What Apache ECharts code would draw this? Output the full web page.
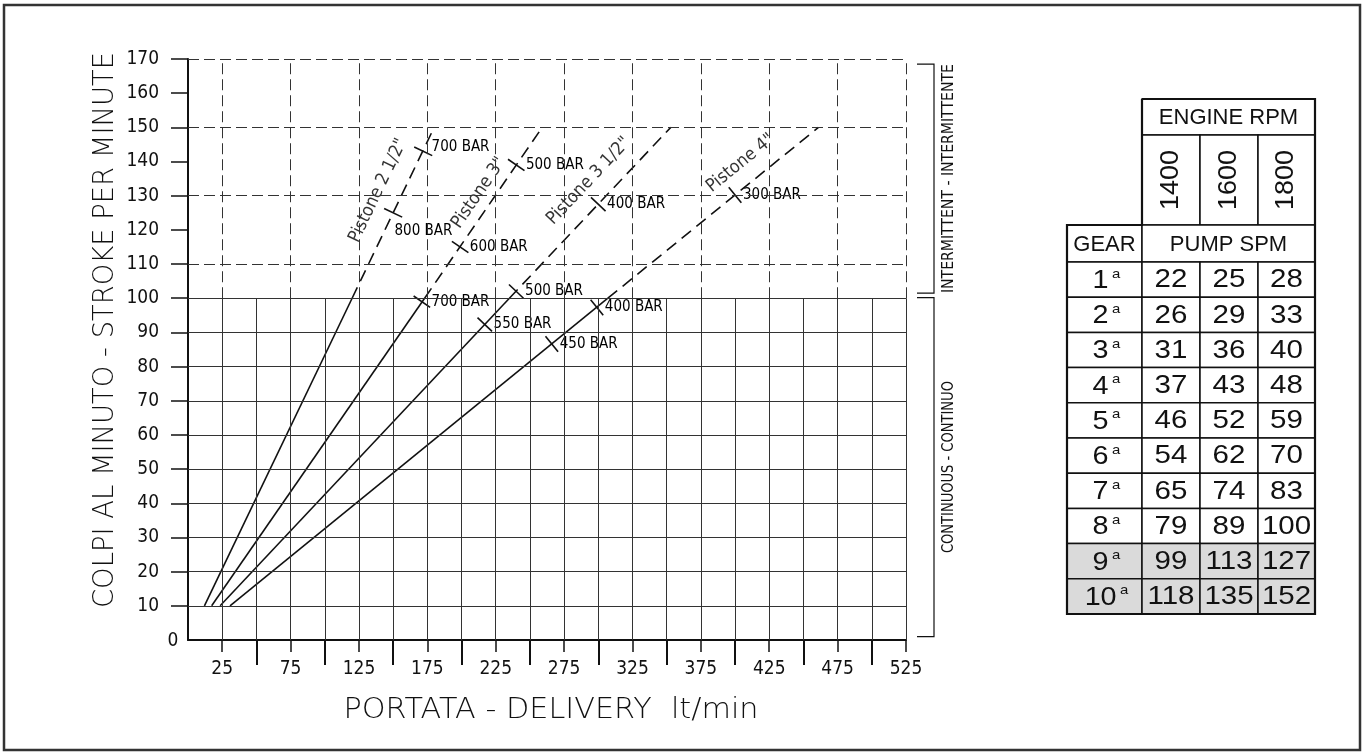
<!DOCTYPE html>
<html>
<head>
<meta charset="utf-8">
<script src="https://cdn.jsdelivr.net/npm/echarts@6/dist/echarts.min.js"></script>
<style>
html,body{margin:0;padding:0;background:#fff;}
#main{width:1368px;height:756px;}
</style>
</head>
<body>
<div id="main"></div>
<script>
// ---------------- DATA ----------------
const xLabelValues = [25, 75, 125, 175, 225, 275, 325, 375, 425, 475, 525];
const xMajorTicks = [50, 100, 150, 200, 250, 300, 350, 400, 450, 500];
const yLabelValues = [10, 20, 30, 40, 50, 60, 70, 80, 90, 100, 110, 120, 130, 140, 150, 160, 170];
const solidGridX = [25, 50, 75, 100, 125, 150, 175, 200, 225, 250, 275, 300, 325, 350, 375, 400, 425, 450, 475, 500, 525];
const dashedGridX = [25, 75, 125, 175, 225, 275, 325, 375, 425, 475, 525];
const solidGridY = [10, 20, 30, 40, 50, 60, 70, 80, 90, 100];
const dashedGridY = [110, 130, 150, 170];
const continuousLimit = 100;
const yMax = 170;
const xMax = 525;

const pistonNames = ['Pistone 2 1/2"', 'Pistone 3"', 'Pistone 3 1/2"', 'Pistone 4"'];
const continuousLines = [
  [[12, 10], [120, 100]],
  [[17.3, 10], [173, 100]],
  [[23.5, 10], [235, 100]],
  [[30.7, 10], [307, 100]]
];
const intermittentLines = [
  [[120, 100], [180, 150]],
  [[173, 100], [259, 150]],
  [[235, 100], [353, 150]],
  [[307, 100], [461, 150]]
];
const pistonLabelPos = [[139, 131.5], [212.7, 130.8], [293, 134.3], [404, 139.5]];

const pressureP25 = [[150, 125, '800 BAR'], [172, 143, '700 BAR']];
const pressureP30 = [[171, 99, '700 BAR'], [199, 115, '600 BAR'], [240, 139, '500 BAR']];
const pressureP35 = [[217, 92.3, '550 BAR'], [240, 102, '500 BAR'], [300, 127.5, '400 BAR']];
const pressureP40 = [[266, 86.6, '450 BAR'], [299, 97.3, '400 BAR'], [400, 130.2, '300 BAR']];
const pressureSets = [pressureP25, pressureP30, pressureP35, pressureP40];

const gears = ['1', '2', '3', '4', '5', '6', '7', '8', '9', '10'];
const rpmValues = ['1400', '1600', '1800'];
const spm1400 = [22, 26, 31, 37, 46, 54, 65, 79, 99, 118];
const spm1600 = [25, 29, 36, 43, 52, 62, 74, 89, 113, 135];
const spm1800 = [28, 33, 40, 48, 59, 70, 83, 100, 127, 152];
const shadedGears = ['9', '10'];

// ---------------- STYLE ----------------
const TECH = "'DejaVu Sans Condensed', 'Liberation Sans Narrow', 'DejaVu Sans', sans-serif";
const TITLE_FONT = "200 28px 'DejaVu Sans', sans-serif";
const TABLE = "'Liberation Sans', Arial, sans-serif";
const INK = '#111111';
const GRID = '#333333';

const measureCtx = document.createElement('canvas').getContext('2d');
function fitScale(text, font, target) {
  measureCtx.font = font;
  return target / measureCtx.measureText(text).width;
}

const chart = echarts.init(document.getElementById('main'), null, {renderer: 'canvas'});

function gridMarkLines() {
  const d = [];
  const solid = {color: GRID, width: 1, type: 'solid'};
  const dashed = {color: GRID, width: 1, type: [11, 5]};
  solidGridX.forEach(x => d.push([{coord: [x, 0], lineStyle: solid}, {coord: [x, continuousLimit]}]));
  dashedGridX.forEach(x => d.push([{coord: [x, continuousLimit], lineStyle: dashed}, {coord: [x, yMax]}]));
  solidGridY.forEach(y => d.push([{coord: [0, y], lineStyle: solid}, {coord: [xMax, y]}]));
  dashedGridY.forEach(y => d.push([{coord: [0, y], lineStyle: dashed}, {coord: [xMax, y]}]));
  return d;
}

function buildOption(angles) {
  const series = [];
  series.push({
    type: 'line', data: [], silent: true, z: 1,
    markLine: {silent: true, symbol: ['none', 'none'], label: {show: false}, animation: false, data: gridMarkLines()}
  });
  continuousLines.forEach(pts => {
    series.push({type: 'line', data: pts, symbol: 'none', z: 3, silent: true,
      lineStyle: {color: INK, width: 1.6, type: 'solid'}});
  });
  intermittentLines.forEach(pts => {
    series.push({type: 'line', data: pts, symbol: 'none', z: 3, silent: true,
      lineStyle: {color: INK, width: 1.6, type: [12, 7]}});
  });
  pressureSets.forEach((set, i) => {
    series.push({
      type: 'scatter', z: 4, silent: true,
      symbol: 'rect', symbolSize: [20, 1.6],
      itemStyle: {color: INK, opacity: 1},
      data: set.map((p, j) => {
        const item = {value: [p[0], p[1]], symbolRotate: angles[i] - 90, name: p[2]};
        let off = [1, 0];
        if (i === 0 && j === 0) off = [-8, 18];
        if (i === 0 && j === 1) off = [-1, -4];
        item.label = {offset: off};
        return item;
      }),
      label: {show: true, position: 'right', distance: 0, formatter: p => p.name,
        fontFamily: TECH, fontSize: 15, color: '#000', opacity: 1, align: 'left', verticalAlign: 'middle'}
    });
  });
  series.push({
    type: 'scatter', z: 4, silent: true, symbolSize: 1,
    itemStyle: {color: 'rgba(0,0,0,0)'},
    data: pistonLabelPos.map((p, i) => ({value: p, name: pistonNames[i], label: {rotate: angles[i]}})),
    label: {show: true, position: 'inside', formatter: p => p.name,
      fontFamily: TECH, fontSize: 18, color: '#000', align: 'center', verticalAlign: 'middle'}
  });

  return {
    animation: false,
    backgroundColor: '#ffffff',
    grid: {left: 188, right: 462, top: 59, bottom: 116},
    xAxis: [{
      type: 'value', min: 0, max: xMax, position: 'bottom',
      axisLine: {show: true, lineStyle: {color: INK, width: 2}},
      axisTick: {show: true, length: 12, customValues: xLabelValues, lineStyle: {color: INK, width: 1.5}},
      axisLabel: {show: true, customValues: xLabelValues, margin: 20, fontFamily: TECH, fontSize: 19, color: INK},
      splitLine: {show: false}
    }, {
      type: 'value', min: 0, max: xMax, position: 'bottom', offset: 0,
      axisLine: {show: false},
      axisTick: {show: true, length: 25, customValues: xMajorTicks, lineStyle: {color: INK, width: 2}},
      axisLabel: {show: false},
      splitLine: {show: false}
    }],
    yAxis: [{
      type: 'value', min: 0, max: yMax,
      axisLine: {show: true, lineStyle: {color: INK, width: 2}},
      axisTick: {show: true, length: 17, customValues: yLabelValues, lineStyle: {color: INK, width: 1.5}},
      axisLabel: {show: true, customValues: yLabelValues, margin: 29, fontFamily: TECH, fontSize: 19, color: INK},
      splitLine: {show: false}
    }],
    series: series,
    graphic: []
  };
}

chart.setOption(buildOption([0, 0, 0, 0]));

const px = (x, y) => chart.convertToPixel({gridIndex: 0}, [x, y]);
const angles = intermittentLines.map(seg => {
  const a = px(seg[0][0], seg[0][1]);
  const b = px(seg[1][0], seg[1][1]);
  return Math.atan2(a[1] - b[1], b[0] - a[0]) * 180 / Math.PI;
});

const opt = buildOption(angles);

const g = [];
g.push({type: 'rect', shape: {x: 4, y: 5, width: 1356, height: 745}, style: {fill: 'none', stroke: '#333', lineWidth: 2.5}, silent: true, z: 0});

function fittedText(text, font, cx, cy, target, rot) {
  g.push({type: 'text', x: cx, y: cy, rotation: rot || 0, scaleX: fitScale(text, font, target), silent: true,
    style: {text: text, font: font, fill: INK, align: 'center', verticalAlign: 'middle'}});
}
fittedText('COLPI AL MINUTO - STROKE PER MINUTE', TITLE_FONT, 106, 330, 556, Math.PI / 2);
fittedText('PORTATA - DELIVERY  lt/min', TITLE_FONT, 551, 711, 415, 0);

const zero = px(0, 0);
g.push({type: 'text', x: zero[0] - 15, y: zero[1] + 1, silent: true,
  style: {text: '0', font: "19px " + TECH, fill: INK, align: 'center', verticalAlign: 'middle'}});

const right = px(xMax, 0)[0];
const bx1 = right + 11, bx2 = right + 28;
function bracket(yTop, yBot, text, len) {
  const t = px(0, yTop)[1], b = px(0, yBot)[1];
  g.push({type: 'polyline', silent: true, shape: {points: [[bx1, t], [bx2, t], [bx2, b], [bx1, b]]},
    style: {stroke: INK, lineWidth: 1.2, fill: 'none'}});
  fittedText(text, "16px " + TECH, right + 43, (t + b) / 2, len, Math.PI / 2);
}
bracket(168.5, 101.5, 'INTERMITTENT - INTERMITTENTE', 229);
bracket(100.2, 1, 'CONTINUOUS - CONTINUO', 172);

const colX = [1067, 1142, 1200, 1258, 1315];
const headTop = 99, headBot = 135, rpmBot = 225, gearBot = 262, rowH = 35.2;
const cell = (x, y, w, h, fill) => g.push({type: 'rect', silent: true, shape: {x, y, width: w, height: h},
  style: {fill: fill || '#fff', stroke: INK, lineWidth: 1.5}});
const txt = (x, y, text, size, rot, sx) => g.push({type: 'text', x, y, rotation: rot || 0, scaleX: sx || 1, silent: true, z: 5,
  style: {text, font: size + "px " + TABLE, fill: INK, align: 'center', verticalAlign: 'middle'}});

cell(colX[1], headTop, colX[4] - colX[1], headBot - headTop);
txt((colX[1] + colX[4]) / 2, (headTop + headBot) / 2 + 1, 'ENGINE RPM', 22);
rpmValues.forEach((r, i) => {
  cell(colX[i + 1], headBot, colX[i + 2] - colX[i + 1], rpmBot - headBot);
  txt((colX[i + 1] + colX[i + 2]) / 2, (headBot + rpmBot) / 2, r, 25, Math.PI / 2, 1.08);
});
cell(colX[0], rpmBot, colX[1] - colX[0], gearBot - rpmBot);
txt((colX[0] + colX[1]) / 2, (rpmBot + gearBot) / 2 + 1, 'GEAR', 22);
cell(colX[1], rpmBot, colX[4] - colX[1], gearBot - rpmBot);
txt((colX[1] + colX[4]) / 2, (rpmBot + gearBot) / 2 + 1, 'PUMP SPM', 22);
const cols = [spm1400, spm1600, spm1800];
gears.forEach((gr, r) => {
  const y0 = gearBot + r * rowH;
  const fill = shadedGears.indexOf(gr) >= 0 ? '#dadada' : '#fff';
  cell(colX[0], y0, colX[1] - colX[0], rowH, fill);
  g.push({type: 'text', x: (colX[0] + colX[1]) / 2 + 2, y: y0 + rowH / 2 + 1, scaleX: 1.15, silent: true, z: 5,
    style: {text: '{n|' + gr + '}{s|a}', fill: INK, align: 'center', verticalAlign: 'middle',
      rich: {n: {font: "25px " + TABLE, fill: INK, lineHeight: 26, verticalAlign: 'bottom'},
             s: {font: "13px " + TABLE, fill: INK, lineHeight: 26, verticalAlign: 'top', padding: [0, 0, 0, 3]}}}});
  cols.forEach((c, k) => {
    cell(colX[k + 1], y0, colX[k + 2] - colX[k + 1], rowH, fill);
    txt((colX[k + 1] + colX[k + 2]) / 2, y0 + rowH / 2 + 1, String(c[r]), 25, 0, 1.18);
  });
});
g.push({type: 'polyline', silent: true, z: 10, shape: {points: [[colX[1], headTop], [colX[4], headTop], [colX[4], gearBot + 10 * rowH], [colX[0], gearBot + 10 * rowH], [colX[0], rpmBot], [colX[1], rpmBot], [colX[1], headTop]]},
  style: {stroke: INK, lineWidth: 2.2, fill: 'none'}});

opt.graphic = g;
chart.setOption(opt, true);
</script>
</body>
</html>
